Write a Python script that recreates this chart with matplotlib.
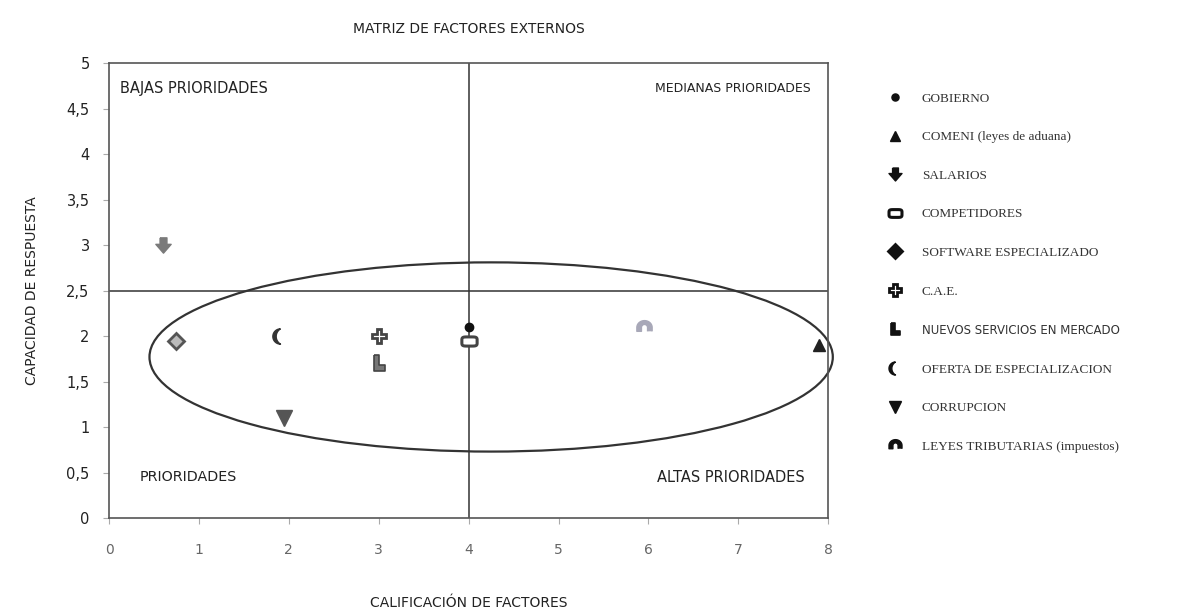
import numpy as np
import matplotlib
matplotlib.use("Agg")
import matplotlib.pyplot as plt
from matplotlib.path import Path
from matplotlib.patches import Ellipse
from matplotlib.lines import Line2D

# --- data -------------------------------------------------------------
factores = ["GOBIERNO", "COMENI (leyes de aduana)", "SALARIOS", "COMPETIDORES",
            "SOFTWARE ESPECIALIZADO", "C.A.E.", "NUEVOS SERVICIOS EN MERCADO",
            "OFERTA DE ESPECIALIZACION", "CORRUPCION", "LEYES TRIBUTARIAS (impuestos)"]
calificacion = [4.0, 7.9, 0.6, 4.0, 0.75, 3.0, 3.0, 1.9, 1.95, 5.95]
capacidad = [2.1, 1.9, 3.0, 1.95, 1.95, 2.0, 1.7, 2.0, 1.1, 2.1]

x_ticks = [0, 1, 2, 3, 4, 5, 6, 7, 8]
y_ticks = [0, 0.5, 1, 1.5, 2, 2.5, 3, 3.5, 4, 4.5, 5]
y_tick_labels = ["0", "0,5", "1", "1,5", "2", "2,5", "3", "3,5", "4", "4,5", "5"]

cuadrantes = ["BAJAS PRIORIDADES", "MEDIANAS PRIORIDADES", "PRIORIDADES", "ALTAS PRIORIDADES"]

# --- marker shapes ----------------------------------------------------
def crescent():
    t1 = np.radians(np.linspace(90, 270, 30))
    outer = np.column_stack([np.cos(t1), np.sin(t1)])
    r = np.hypot(0.6, 1.0)
    a0 = np.degrees(np.arctan2(-1.0, -0.6))
    a1 = np.degrees(np.arctan2(1.0, -0.6))
    t2 = np.radians(np.linspace(a0 + 360, a1, 30))
    inner = np.column_stack([0.6 + r * np.cos(t2), r * np.sin(t2)])
    v = np.vstack([outer, inner])
    return Path(v, closed=False)

def arch():
    t = np.radians(np.linspace(0, 180, 30))
    outer = np.column_stack([np.cos(t), np.sin(t) * 0.9])
    inner = np.column_stack([0.4 * np.cos(t[::-1]), 0.4 * np.sin(t[::-1])])
    v = np.vstack([[(1.0, -0.5)], outer, [(-1.0, -0.5), (-0.4, -0.5)], inner, [(0.4, -0.5)]])
    return Path(v)

def rounded_rect():
    t = np.radians(np.linspace(0, 360, 60))
    x = np.sign(np.cos(t)) * np.abs(np.cos(t)) ** 0.4
    y = 0.6 * np.sign(np.sin(t)) * np.abs(np.sin(t)) ** 0.4
    return Path(np.column_stack([x, y]))

flecha = Path([(-0.45, 1), (0.45, 1), (0.45, 0.15), (1, 0.15), (0, -1), (-1, 0.15), (-0.45, 0.15), (-0.45, 1)])
ele = Path([(-0.6, 1), (0.0, 1), (0.0, -0.25), (0.8, -0.25), (0.8, -1), (-0.6, -1), (-0.6, 1)])

estilos = [
    dict(marker="o", ms=6, mfc="#111111", mec="#111111", mew=1),
    dict(marker="^", ms=8, mfc="#222222", mec="#222222", mew=1),
    dict(marker=flecha, ms=11, mfc="#7a7a7a", mec="#7a7a7a", mew=1),
    dict(marker=rounded_rect(), ms=11, mfc="white", mec="#444444", mew=2.2),
    dict(marker="D", ms=8, mfc="#bbbbbb", mec="#555555", mew=2),
    dict(marker="P", ms=10, mfc="white", mec="#444444", mew=2),
    dict(marker=ele, ms=11, mfc="#777777", mec="#444444", mew=1.2),
    dict(marker=crescent(), ms=11, mfc="#333333", mec="#333333", mew=1),
    dict(marker="v", ms=11, mfc="#555555", mec="#555555", mew=1),
    dict(marker=arch(), ms=11, mfc="#a8a8b8", mec="#a8a8b8", mew=1),
]

# --- figure -----------------------------------------------------------
fig = plt.figure(figsize=(11.85, 6.13), dpi=100)
ax = fig.add_axes([0.092, 0.155, 0.607, 0.742])
ax.set_xlim(0, 8)
ax.set_ylim(0, 5)

for s in ax.spines.values():
    s.set_color("#555555")
    s.set_linewidth(1.2)

ax.axvline(4, color="#333333", lw=1.1, zorder=1)
ax.axhline(2.5, color="#333333", lw=1.1, zorder=1)

for x, y, st in zip(calificacion, capacidad, estilos):
    ax.plot([x], [y], linestyle="none", zorder=3, clip_on=False,
            marker=st["marker"], markersize=st["ms"], markerfacecolor=st["mfc"],
            markeredgecolor=st["mec"], markeredgewidth=st["mew"])

ax.add_patch(Ellipse((4.25, 1.77), 7.6, 2.08, fill=False, edgecolor="#333333",
                     lw=1.6, zorder=2, clip_on=False))

tf = dict(color="#222222", family="DejaVu Sans")
ax.text(0.12, 4.72, cuadrantes[0], ha="left", va="center", fontsize=10.5, **tf)
ax.text(7.81, 4.72, cuadrantes[1], ha="right", va="center", fontsize=9, **tf)
ax.text(0.34, 0.45, cuadrantes[2], ha="left", va="center", fontsize=10.3, **tf)
ax.text(7.74, 0.45, cuadrantes[3], ha="right", va="center", fontsize=10.5, **tf)

ax.set_xticks(x_ticks)
ax.set_yticks(y_ticks)
ax.set_yticklabels(y_tick_labels)
ax.tick_params(axis="x", length=4, color="#aaaaaa", pad=14, labelsize=10, labelcolor="#666666")
ax.tick_params(axis="y", length=4, color="#aaaaaa", pad=10, labelsize=10.5, labelcolor="#222222")

ax.set_title("MATRIZ DE FACTORES EXTERNOS", fontsize=10, color="#222222", pad=22)
ax.set_xlabel("CALIFICACIÓN DE FACTORES", fontsize=10, color="#222222", labelpad=28)
ax.set_ylabel("CAPACIDAD DE RESPUESTA", fontsize=10, color="#222222", labelpad=20)

handles = []
for lab, st in zip(factores, estilos):
    handles.append(Line2D([], [], linestyle="none", marker=st["marker"],
                          markersize=st["ms"] * 0.85,
                          markerfacecolor="#111111" if st["mfc"] != "white" else "white",
                          markeredgecolor="#111111", markeredgewidth=st["mew"], label=lab))
leg = fig.legend(handles=handles, loc="upper left", bbox_to_anchor=(0.74, 0.858),
                 frameon=False, prop=dict(family="Liberation Serif", size=9.5),
                 labelspacing=2.0, handletextpad=1.0, borderaxespad=0)
for t in leg.get_texts():
    t.set_color("#333333")
    if t.get_text().startswith("NUEVOS"):
        t.set_fontfamily("DejaVu Sans")
        t.set_fontsize(8.5)

fig.savefig("out.png", dpi=100)
